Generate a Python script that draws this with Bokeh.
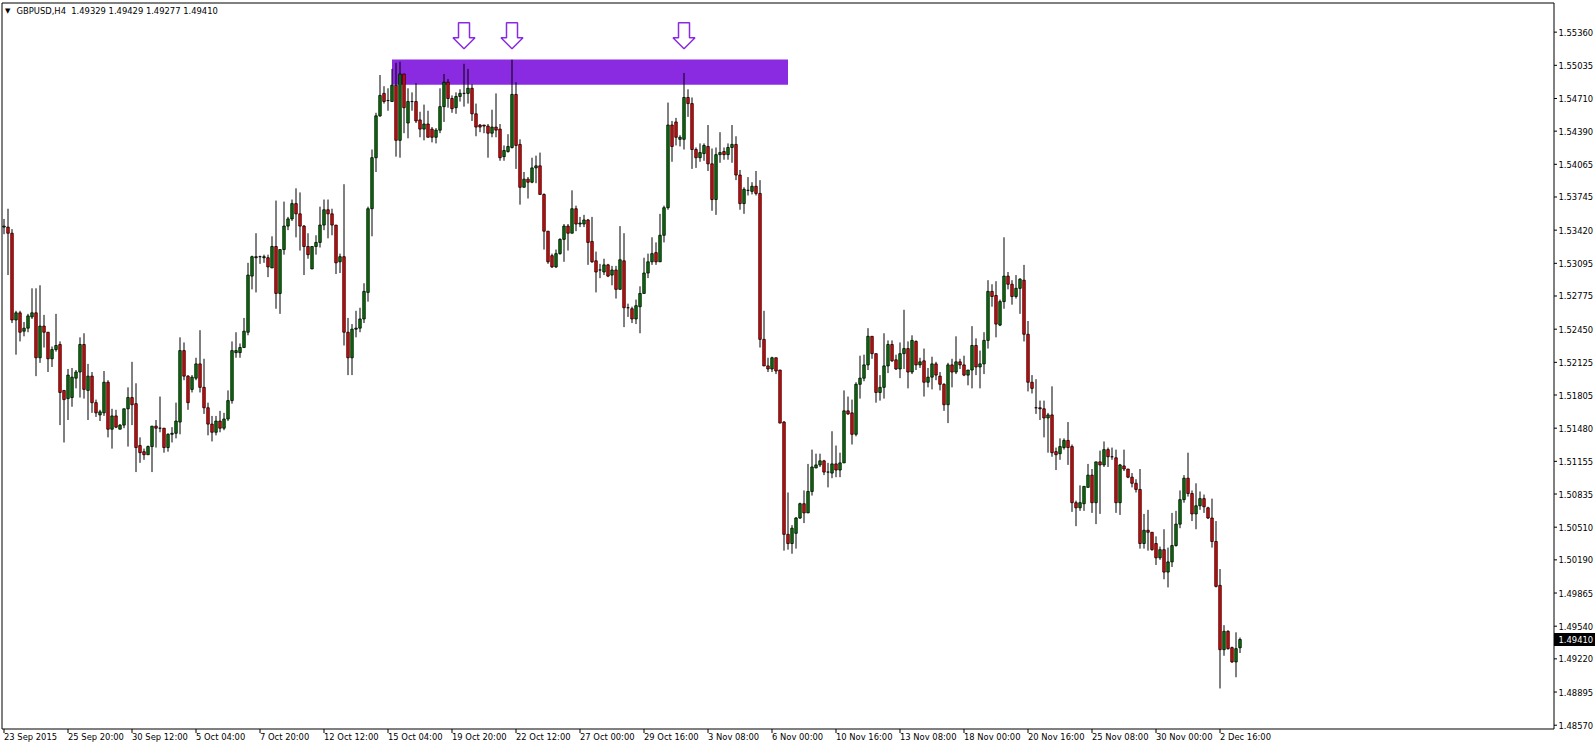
import numpy as np
from bokeh.plotting import figure
from bokeh.models import Range1d, ColumnDataSource
from bokeh.embed import file_html
from bokeh.resources import INLINE
from bokeh.core.properties import value

title_symbol = "GBPUSD,H4"
title_ohlc = "1.49329 1.49429 1.49277 1.49410"

opens = [
    1.5345, 1.5345, 1.5339, 1.5254, 1.5261, 1.5243, 1.5246, 1.5257, 1.5261, 1.5217,
    1.5248, 1.5242, 1.5216, 1.5225, 1.5230, 1.5185, 1.5177, 1.5178, 1.5197, 1.5203,
    1.5230, 1.5185, 1.5199, 1.5173, 1.5161, 1.5163, 1.5193, 1.5147, 1.5160, 1.5147,
    1.5151, 1.5167, 1.5178, 1.5172, 1.5131, 1.5125, 1.5122, 1.5130, 1.5150, 1.5148,
    1.5148, 1.5129, 1.5142, 1.5143, 1.5154, 1.5224, 1.5199, 1.5186, 1.5197, 1.5211,
    1.5188, 1.5168, 1.5152, 1.5144, 1.5155, 1.5148, 1.5157, 1.5175, 1.5222, 1.5222,
    1.5227, 1.5242, 1.5297, 1.5315, 1.5316, 1.5315, 1.5315, 1.5305, 1.5326, 1.5280,
    1.5323, 1.5346, 1.5353, 1.5368, 1.5358, 1.5346, 1.5326, 1.5304, 1.5326, 1.5330,
    1.5347, 1.5362, 1.5358, 1.5347, 1.5311, 1.5316, 1.5242, 1.5217, 1.5245, 1.5246,
    1.5255, 1.5281, 1.5363, 1.5413, 1.5454, 1.5476, 1.5469, 1.5468, 1.5484, 1.5430,
    1.5495, 1.5447, 1.5468, 1.5468, 1.5450, 1.5441, 1.5446, 1.5441, 1.5433, 1.5440,
    1.5463, 1.5487, 1.5471, 1.5462, 1.5473, 1.5476, 1.5476, 1.5481, 1.5456, 1.5445,
    1.5445, 1.5444, 1.5437, 1.5443, 1.5441, 1.5414, 1.5419, 1.5423, 1.5475, 1.5426,
    1.5384, 1.5392, 1.5389, 1.5403, 1.5405, 1.5377, 1.5341, 1.5317, 1.5306, 1.5319,
    1.5333, 1.5346, 1.5339, 1.5363, 1.5348, 1.5348, 1.5352, 1.5331, 1.5312, 1.5303,
    1.5301, 1.5308, 1.5298, 1.5303, 1.5284, 1.5312, 1.5266, 1.5265, 1.5255, 1.5267,
    1.5280, 1.5300, 1.5311, 1.5320, 1.5311, 1.5337, 1.5364, 1.5445, 1.5448, 1.5431,
    1.5431, 1.5472, 1.5466, 1.5421, 1.5413, 1.5417, 1.5424, 1.5407, 1.5372, 1.5416,
    1.5419, 1.5416, 1.5423, 1.5426, 1.5396, 1.5368, 1.5381, 1.5380, 1.5385, 1.5378,
    1.5235, 1.5209, 1.5206, 1.5217, 1.5205, 1.5154, 1.5044, 1.5035, 1.5045, 1.5060,
    1.5074, 1.5065, 1.5086, 1.5109, 1.5112, 1.5116, 1.5105, 1.5104, 1.5113, 1.5107,
    1.5114, 1.5165, 1.5163, 1.5142, 1.5191, 1.5197, 1.5210, 1.5238, 1.5221, 1.5183,
    1.5188, 1.5209, 1.5230, 1.5215, 1.5206, 1.5221, 1.5226, 1.5203, 1.5233, 1.5210,
    1.5214, 1.5193, 1.5198, 1.5211, 1.5199, 1.5191, 1.5171, 1.5210, 1.5203, 1.5213,
    1.5210, 1.5200, 1.5205, 1.5229, 1.5208, 1.5211, 1.5234, 1.5282, 1.5278, 1.5249,
    1.5272, 1.5297, 1.5289, 1.5277, 1.5285, 1.5293, 1.5240, 1.5193, 1.5168, 1.5168,
    1.5167, 1.5158, 1.5161, 1.5125, 1.5123, 1.5129, 1.5136, 1.5130, 1.5075, 1.5070,
    1.5074, 1.5090, 1.5102, 1.5075, 1.5115, 1.5112, 1.5127, 1.5120, 1.5119, 1.5075,
    1.5111, 1.5108, 1.5100, 1.5094, 1.5088, 1.5035, 1.5048, 1.5046, 1.5035, 1.5021,
    1.5029, 1.5007, 1.5017, 1.5033, 1.5054, 1.5078, 1.5099, 1.5084, 1.5064, 1.5072,
    1.5079, 1.5070, 1.5060, 1.5037, 1.4994, 1.4931, 1.4949, 1.4933, 1.4919, 1.49329,
]
highs = [
    1.5353, 1.5363, 1.5343, 1.5263, 1.5263, 1.5252, 1.5260, 1.5285, 1.5285, 1.5288,
    1.5259, 1.5242, 1.5228, 1.5260, 1.5233, 1.5185, 1.5206, 1.5207, 1.5205, 1.5237,
    1.5241, 1.5211, 1.5203, 1.5176, 1.5166, 1.5204, 1.5195, 1.5167, 1.5166, 1.5152,
    1.5167, 1.5188, 1.5213, 1.5192, 1.5139, 1.5128, 1.5131, 1.5150, 1.5156, 1.5179,
    1.5148, 1.5143, 1.5149, 1.5173, 1.5237, 1.5232, 1.5200, 1.5200, 1.5217, 1.5244,
    1.5216, 1.5173, 1.5160, 1.5160, 1.5165, 1.5163, 1.5185, 1.5233, 1.5242, 1.5231,
    1.5256, 1.5310, 1.5317, 1.5339, 1.5317, 1.5318, 1.5318, 1.5336, 1.5371, 1.5323,
    1.5370, 1.5355, 1.5372, 1.5383, 1.5379, 1.5347, 1.5339, 1.5326, 1.5337, 1.5365,
    1.5372, 1.5372, 1.5363, 1.5347, 1.5319, 1.5387, 1.5256, 1.5250, 1.5263, 1.5266,
    1.5290, 1.5365, 1.5421, 1.5457, 1.5494, 1.5483, 1.5481, 1.5500, 1.5506, 1.5507,
    1.5495, 1.5481, 1.5477, 1.5486, 1.5458, 1.5465, 1.5459, 1.5443, 1.5442, 1.5481,
    1.5495, 1.5490, 1.5474, 1.5477, 1.5480, 1.5505, 1.5500, 1.5485, 1.5466, 1.5446,
    1.5445, 1.5446, 1.5460, 1.5476, 1.5446, 1.5425, 1.5436, 1.5509, 1.5487, 1.5431,
    1.5399, 1.5394, 1.5413, 1.5415, 1.5418, 1.5378, 1.5341, 1.5319, 1.5323, 1.5334,
    1.5348, 1.5348, 1.5381, 1.5366, 1.5355, 1.5357, 1.5353, 1.5355, 1.5321, 1.5309,
    1.5314, 1.5309, 1.5307, 1.5307, 1.5346, 1.5339, 1.5270, 1.5267, 1.5274, 1.5287,
    1.5315, 1.5319, 1.5335, 1.5330, 1.5358, 1.5366, 1.5467, 1.5449, 1.5452, 1.5435,
    1.5496, 1.5480, 1.5472, 1.5423, 1.5427, 1.5427, 1.5445, 1.5422, 1.5423, 1.5438,
    1.5423, 1.5427, 1.5445, 1.5434, 1.5401, 1.5384, 1.5394, 1.5389, 1.5400, 1.5391,
    1.5263, 1.5217, 1.5218, 1.5217, 1.5205, 1.5155, 1.5085, 1.5053, 1.5061, 1.5075,
    1.5087, 1.5113, 1.5127, 1.5123, 1.5123, 1.5117, 1.5114, 1.5145, 1.5131, 1.5124,
    1.5185, 1.5179, 1.5176, 1.5193, 1.5219, 1.5220, 1.5246, 1.5238, 1.5221, 1.5200,
    1.5241, 1.5234, 1.5234, 1.5220, 1.5232, 1.5264, 1.5233, 1.5239, 1.5234, 1.5217,
    1.5226, 1.5207, 1.5218, 1.5213, 1.5203, 1.5192, 1.5212, 1.5216, 1.5238, 1.5216,
    1.5219, 1.5205, 1.5248, 1.5236, 1.5224, 1.5242, 1.5293, 1.5289, 1.5292, 1.5274,
    1.5335, 1.5301, 1.5293, 1.5298, 1.5295, 1.5308, 1.5253, 1.5200, 1.5196, 1.5175,
    1.5175, 1.5163, 1.5189, 1.5129, 1.5138, 1.5138, 1.5154, 1.5132, 1.5077, 1.5092,
    1.5091, 1.5113, 1.5108, 1.5115, 1.5126, 1.5135, 1.5129, 1.5129, 1.5127, 1.5113,
    1.5127, 1.5108, 1.5104, 1.5098, 1.5108, 1.5064, 1.5068, 1.5046, 1.5042, 1.5032,
    1.5049, 1.5031, 1.5065, 1.5067, 1.5087, 1.5102, 1.5124, 1.5087, 1.5094, 1.5086,
    1.5083, 1.5071, 1.5079, 1.5057, 1.5010, 1.4955, 1.4950, 1.4934, 1.4948, 1.49429,
]
lows = [
    1.5338, 1.5298, 1.5251, 1.5220, 1.5233, 1.5238, 1.5242, 1.5255, 1.5199, 1.5212,
    1.5227, 1.5203, 1.5208, 1.5223, 1.5151, 1.5134, 1.5156, 1.5169, 1.5187, 1.5178,
    1.5177, 1.5156, 1.5163, 1.5159, 1.5155, 1.5160, 1.5139, 1.5128, 1.5148, 1.5147,
    1.5148, 1.5130, 1.5151, 1.5105, 1.5114, 1.5117, 1.5122, 1.5105, 1.5129, 1.5144,
    1.5124, 1.5125, 1.5134, 1.5138, 1.5142, 1.5195, 1.5166, 1.5183, 1.5195, 1.5183,
    1.5162, 1.5141, 1.5135, 1.5141, 1.5144, 1.5146, 1.5155, 1.5172, 1.5217, 1.5217,
    1.5227, 1.5239, 1.5284, 1.5281, 1.5309, 1.5310, 1.5296, 1.5305, 1.5265, 1.5260,
    1.5318, 1.5342, 1.5351, 1.5335, 1.5322, 1.5298, 1.5314, 1.5304, 1.5318, 1.5325,
    1.5342, 1.5334, 1.5337, 1.5299, 1.5300, 1.5229, 1.5200, 1.5200, 1.5237, 1.5242,
    1.5251, 1.5272, 1.5336, 1.5399, 1.5453, 1.5466, 1.5459, 1.5468, 1.5414, 1.5413,
    1.5437, 1.5432, 1.5459, 1.5447, 1.5433, 1.5430, 1.5433, 1.5428, 1.5427, 1.5437,
    1.5448, 1.5462, 1.5457, 1.5456, 1.5468, 1.5463, 1.5466, 1.5449, 1.5434, 1.5438,
    1.5437, 1.5413, 1.5433, 1.5433, 1.5410, 1.5410, 1.5418, 1.5422, 1.5402, 1.5367,
    1.5384, 1.5373, 1.5388, 1.5388, 1.5377, 1.5323, 1.5309, 1.5305, 1.5305, 1.5318,
    1.5311, 1.5322, 1.5339, 1.5341, 1.5345, 1.5345, 1.5308, 1.5310, 1.5281, 1.5295,
    1.5298, 1.5296, 1.5288, 1.5275, 1.5284, 1.5247, 1.5257, 1.5251, 1.5250, 1.5241,
    1.5280, 1.5295, 1.5308, 1.5308, 1.5311, 1.5330, 1.5362, 1.5409, 1.5425, 1.5424,
    1.5421, 1.5453, 1.5402, 1.5403, 1.5409, 1.5410, 1.5400, 1.5361, 1.5357, 1.5408,
    1.5411, 1.5411, 1.5408, 1.5391, 1.5362, 1.5358, 1.5376, 1.5377, 1.5376, 1.5227,
    1.5209, 1.5203, 1.5203, 1.5201, 1.5153, 1.5028, 1.5029, 1.5025, 1.5030, 1.5059,
    1.5055, 1.5065, 1.5082, 1.5109, 1.5110, 1.5102, 1.5090, 1.5099, 1.5100, 1.5100,
    1.5114, 1.5161, 1.5132, 1.5140, 1.5177, 1.5194, 1.5205, 1.5216, 1.5173, 1.5175,
    1.5177, 1.5202, 1.5213, 1.5205, 1.5197, 1.5206, 1.5187, 1.5201, 1.5205, 1.5207,
    1.5179, 1.5188, 1.5186, 1.5195, 1.5185, 1.5165, 1.5153, 1.5188, 1.5201, 1.5206,
    1.5199, 1.5190, 1.5187, 1.5200, 1.5187, 1.5201, 1.5226, 1.5267, 1.5237, 1.5248,
    1.5265, 1.5284, 1.5269, 1.5275, 1.5260, 1.5233, 1.5184, 1.5182, 1.5162, 1.5156,
    1.5139, 1.5124, 1.5120, 1.5107, 1.5117, 1.5127, 1.5112, 1.5066, 1.5052, 1.5067,
    1.5067, 1.5090, 1.5065, 1.5054, 1.5064, 1.5110, 1.5110, 1.5117, 1.5065, 1.5063,
    1.5106, 1.5099, 1.5090, 1.5085, 1.5030, 1.5030, 1.5028, 1.5028, 1.5014, 1.5019,
    1.5000, 1.4992, 1.5012, 1.5032, 1.5050, 1.5075, 1.5081, 1.5057, 1.5049, 1.5068,
    1.5065, 1.5059, 1.5031, 1.4992, 1.4893, 1.4925, 1.4931, 1.4918, 1.4904, 1.49277,
]
closes = [
    1.5346, 1.5339, 1.5254, 1.5261, 1.5242, 1.5246, 1.5258, 1.5261, 1.5217, 1.5248,
    1.5242, 1.5216, 1.5225, 1.5229, 1.5183, 1.5176, 1.5200, 1.5198, 1.5203, 1.5230,
    1.5186, 1.5199, 1.5173, 1.5163, 1.5164, 1.5193, 1.5147, 1.5160, 1.5149, 1.5151,
    1.5167, 1.5178, 1.5171, 1.5129, 1.5124, 1.5122, 1.5130, 1.5150, 1.5148, 1.5148,
    1.5129, 1.5142, 1.5143, 1.5155, 1.5224, 1.5199, 1.5173, 1.5198, 1.5211, 1.5188,
    1.5168, 1.5152, 1.5144, 1.5155, 1.5148, 1.5157, 1.5175, 1.5224, 1.5224, 1.5227,
    1.5243, 1.5298, 1.5316, 1.5316, 1.5316, 1.5316, 1.5306, 1.5326, 1.5280, 1.5323,
    1.5346, 1.5353, 1.5368, 1.5358, 1.5346, 1.5326, 1.5318, 1.5326, 1.5330, 1.5347,
    1.5362, 1.5358, 1.5347, 1.5310, 1.5316, 1.5242, 1.5217, 1.5245, 1.5246, 1.5255,
    1.5282, 1.5363, 1.5413, 1.5454, 1.5474, 1.5468, 1.5469, 1.5484, 1.5430, 1.5495,
    1.5462, 1.5468, 1.5468, 1.5449, 1.5441, 1.5446, 1.5433, 1.5433, 1.5440, 1.5463,
    1.5487, 1.5471, 1.5461, 1.5473, 1.5476, 1.5476, 1.5481, 1.5456, 1.5443, 1.5443,
    1.5444, 1.5437, 1.5443, 1.5440, 1.5413, 1.5420, 1.5424, 1.5475, 1.5425, 1.5384,
    1.5392, 1.5389, 1.5403, 1.5405, 1.5377, 1.5341, 1.5311, 1.5306, 1.5319, 1.5333,
    1.5346, 1.5339, 1.5363, 1.5348, 1.5349, 1.5352, 1.5330, 1.5311, 1.5301, 1.5303,
    1.5308, 1.5297, 1.5303, 1.5284, 1.5313, 1.5266, 1.5266, 1.5255, 1.5268, 1.5280,
    1.5300, 1.5311, 1.5319, 1.5311, 1.5337, 1.5364, 1.5445, 1.5424, 1.5433, 1.5433,
    1.5472, 1.5466, 1.5421, 1.5413, 1.5418, 1.5425, 1.5407, 1.5372, 1.5416, 1.5418,
    1.5416, 1.5423, 1.5426, 1.5396, 1.5368, 1.5382, 1.5381, 1.5385, 1.5378, 1.5235,
    1.5209, 1.5206, 1.5217, 1.5204, 1.5153, 1.5044, 1.5035, 1.5050, 1.5060, 1.5074,
    1.5065, 1.5086, 1.5110, 1.5112, 1.5116, 1.5105, 1.5105, 1.5113, 1.5107, 1.5114,
    1.5165, 1.5162, 1.5142, 1.5191, 1.5197, 1.5210, 1.5238, 1.5221, 1.5183, 1.5188,
    1.5209, 1.5230, 1.5214, 1.5206, 1.5221, 1.5226, 1.5203, 1.5234, 1.5210, 1.5213,
    1.5193, 1.5198, 1.5211, 1.5200, 1.5191, 1.5171, 1.5210, 1.5203, 1.5213, 1.5210,
    1.5200, 1.5205, 1.5229, 1.5208, 1.5211, 1.5234, 1.5282, 1.5277, 1.5250, 1.5272,
    1.5297, 1.5289, 1.5277, 1.5285, 1.5294, 1.5240, 1.5193, 1.5187, 1.5168, 1.5167,
    1.5158, 1.5161, 1.5124, 1.5122, 1.5130, 1.5136, 1.5129, 1.5075, 1.5070, 1.5075,
    1.5091, 1.5102, 1.5075, 1.5115, 1.5112, 1.5127, 1.5120, 1.5120, 1.5075, 1.5112,
    1.5108, 1.5100, 1.5094, 1.5088, 1.5035, 1.5048, 1.5046, 1.5029, 1.5021, 1.5029,
    1.5007, 1.5017, 1.5033, 1.5054, 1.5078, 1.5099, 1.5084, 1.5064, 1.5072, 1.5079,
    1.5071, 1.5060, 1.5037, 1.4993, 1.4931, 1.4949, 1.4932, 1.4919, 1.4932, 1.49410,
]

tick_bars = [0, 16, 32, 48, 64, 80, 96, 112, 128, 144, 160, 176, 192, 208, 224, 240, 256, 272, 288, 304]
tick_labels = ["23 Sep 2015", "25 Sep 20:00", "30 Sep 12:00", "5 Oct 04:00", "7 Oct 20:00",
               "12 Oct 12:00", "15 Oct 04:00", "19 Oct 20:00", "22 Oct 12:00", "27 Oct 00:00",
               "29 Oct 16:00", "3 Nov 08:00", "6 Nov 00:00", "10 Nov 16:00", "13 Nov 08:00",
               "18 Nov 00:00", "20 Nov 16:00", "25 Nov 08:00", "30 Nov 00:00", "2 Dec 16:00"]
price_ticks = [1.55360, 1.55035, 1.54710, 1.54390, 1.54065, 1.53745, 1.53420, 1.53095,
               1.52775, 1.52450, 1.52125, 1.51805, 1.51480, 1.51155, 1.50835, 1.50510,
               1.50190, 1.49865, 1.49540, 1.49220, 1.48895, 1.48570]

zone_start_bar = 97
zone_end_bar = 196
zone_top = 1.55092
zone_bottom = 1.54844
arrow_bars = [115, 127, 170]
arrow_tip_price = 1.55197
last_price = 1.49410

BULL = "#008000"
BEAR = "#ff0000"
ZONE = "#8a2be2"
FONT = value("DejaVu Sans")
FSIZE = "8.4px"

# ---- canvas / scale layout (MT4-like window: chart area + price scale + time scale)
W, H = 1596, 746
BAR_PX = 4.0          # pixels per bar
BAR0_PX = 3.5         # pixel of the first bar centre
PRICE_AT_TOP = 1.5567 # price at the canvas top edge
PX_PER_PRICE = 1.0 / 0.00009797


def X(px):
    return (px - BAR0_PX) / BAR_PX


def Y(py):
    return PRICE_AT_TOP - py / PX_PER_PRICE


DX = 1.0 / BAR_PX        # one pixel in bars
DY = 1.0 / PX_PER_PRICE  # one pixel in price

p = figure(width=W, height=H, output_backend="svg", toolbar_location=None,
           x_range=Range1d(X(0), X(W)), y_range=Range1d(Y(H), Y(0)),
           x_axis_location=None, y_axis_location=None, min_border=0)
p.grid.visible = False
p.outline_line_color = None
p.background_fill_color = "white"
p.border_fill_color = "white"

win_l, win_r, win_t, win_b = X(1.5), X(1553.5), Y(2.5), Y(728.5)

# zone rectangle (behind candles)
p.quad(left=[zone_start_bar], right=[zone_end_bar], top=[zone_top], bottom=[zone_bottom],
       fill_color=ZONE, line_color=None)

# candles
o = np.array(opens); h = np.array(highs); l = np.array(lows); c = np.array(closes)
bars = np.arange(len(o))
src = ColumnDataSource(dict(x=bars, h=h, l=l, top=np.maximum(o, c), bottom=np.minimum(o, c),
                            color=[BULL if cc >= oo else BEAR for oo, cc in zip(o, c)]))
p.segment(x0="x", y0="l", x1="x", y1="h", source=src, line_color="black", line_width=1)
p.vbar(x="x", width=2.5 * DX, top="top", bottom="bottom", source=src,
       fill_color="color", line_color="black", line_width=0.8)

# hollow arrows pointing down at the zone
shape = [(0, 0), (11, 11), (5.5, 11), (5.5, 26), (-5.5, 26), (-5.5, 11), (-11, 11)]
xs = [[b + sx * DX for sx, sy in shape] for b in arrow_bars]
ys = [[arrow_tip_price + sy * DY for sx, sy in shape] for b in arrow_bars]
p.patches(xs, ys, fill_color="white", fill_alpha=0.0, line_color=ZONE, line_width=1.5)

# chart window frame
p.quad(left=[win_l], right=[win_r], top=[win_t], bottom=[win_b],
       fill_color=None, line_color="black", line_width=1)

# title
p.text(x=[win_l], y=[win_t], text=["\u25bc"], x_offset=3, y_offset=8,
       text_font=FONT, text_font_size="7px", text_baseline="middle", text_color="black")
p.text(x=[win_l], y=[win_t], text=[title_symbol + "\u00a0\u00a0" + title_ohlc], x_offset=14.5, y_offset=8,
       text_font=FONT, text_font_size=FSIZE, text_baseline="middle", text_color="black")

# price scale (right)
p.segment(x0=[win_r] * len(price_ticks), x1=[win_r + 3 * DX] * len(price_ticks),
          y0=price_ticks, y1=price_ticks, line_color="black", line_width=1)
p.text(x=[win_r + 4.5 * DX] * len(price_ticks), y=price_ticks,
       text=["%.5f" % v for v in price_ticks],
       text_font=FONT, text_font_size=FSIZE, text_baseline="middle", text_align="left",
       text_color="black")

# current price tag
p.quad(left=[win_r], right=[win_r + 41 * DX], top=[last_price + 6.5 * DY],
       bottom=[last_price - 6.5 * DY], fill_color="black", line_color=None)
p.text(x=[win_r + 4.5 * DX], y=[last_price], text=["%.5f" % last_price],
       text_font=FONT, text_font_size=FSIZE, text_baseline="middle", text_align="left",
       text_color="white")

# time scale (bottom)
p.segment(x0=tick_bars, x1=tick_bars, y0=[win_b] * len(tick_bars),
          y1=[win_b - 4 * DY] * len(tick_bars), line_color="black", line_width=1)
p.text(x=tick_bars, y=[win_b - 8 * DY] * len(tick_bars), text=tick_labels, x_offset=0,
       text_font=FONT, text_font_size=FSIZE, text_baseline="middle", text_align="left",
       text_color="black")

open("out.html", "w").write(file_html(p, INLINE))
